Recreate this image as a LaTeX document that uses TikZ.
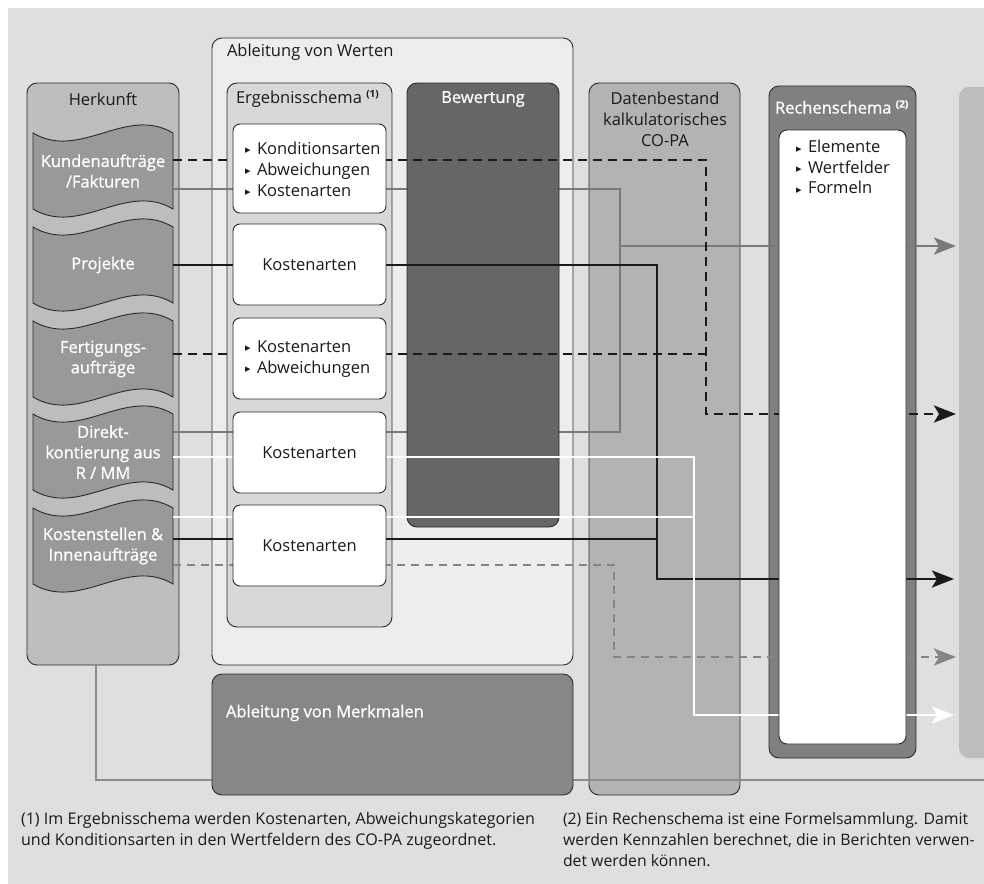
\documentclass[tikz,border=0pt]{standalone}
\usepackage{fontspec}
\setmainfont{Open Sans}
\newfontfamily\dejavu{DejaVu Sans}
\newfontfamily\semib[FakeBold=0.8]{Open Sans}
\usetikzlibrary{arrows.meta}
\definecolor{cBg}{HTML}{DFDFDF}
\definecolor{cWerte}{HTML}{EDEDED}
\definecolor{cHerk}{HTML}{BDBDBD}
\definecolor{cDoc}{HTML}{999999}
\definecolor{cErg}{HTML}{D8D8D8}
\definecolor{cBew}{HTML}{666666}
\definecolor{cDat}{HTML}{B3B3B3}
\definecolor{cRech}{HTML}{808080}
\definecolor{cRight}{HTML}{BDBDBD}
\definecolor{cMerk}{HTML}{878787}
\definecolor{cBord}{HTML}{2A2A2A}
\definecolor{cTxt}{HTML}{1A1A1A}
\definecolor{cBlk}{HTML}{1A1A1A}
\definecolor{cGry}{HTML}{7A7A7A}
\definecolor{cGryD}{HTML}{858585}
\definecolor{cGryL}{HTML}{8C8C8C}
\newcommand\bul{\makebox[12pt][l]{\dejavu\fontsize{11}{11}\selectfont\raisebox{0.5pt}{▸}}}
\newcommand\fnm[1]{\raisebox{6pt}{\bfseries\fontsize{10}{10}\selectfont #1}}
\newcommand\docshape[1]{%
  \filldraw[docst] (33,#1) .. controls (80,{#1+28}) and (126,{#1-28}) .. (173,#1)
    -- (173,{#1+76}) .. controls (126,{#1+76-28}) and (80,{#1+76+28}) .. (33,{#1+76}) -- cycle;}
\begin{document}
\begin{tikzpicture}[x=1pt,y=-1pt,
  box/.style={draw=cBord, line width=0.9pt, rounded corners=10pt, inner sep=0pt, outer sep=0pt, anchor=north west},
  lab/.style={inner sep=0pt, outer sep=0pt, text=cTxt, font=\fontsize{16.5}{21}\selectfont},
  wbox/.style={box, lab, fill=white, rounded corners=7pt, minimum width=153pt},
  wlab/.style={lab, text=white, font=\semib\fontsize{16.5}{20.5}\selectfont},
  docst/.style={draw=cBord, line width=0.9pt, fill=cDoc},
  arr/.style={-{Stealth[length=22pt,width=17pt,inset=5pt]}},
  conn/.style={line width=2.8pt},
  blk/.style={conn, draw=cBlk},
  blkd/.style={blk, dash pattern=on 9pt off 6pt},
  gry/.style={conn, draw=cGry},
  gryd/.style={conn, draw=cGryD, dash pattern=on 8pt off 6pt},
  wht/.style={conn, draw=white},
]
\useasboundingbox (0,0) rectangle (984,883);
\clip (0,0) rectangle (984,883);
\fill[cBg] (8,8) rectangle (990,890);

% containers
\node[box, fill=cWerte, minimum width=361pt, minimum height=627pt] (werte) at (212,38) {};
\node[box, fill=cHerk, minimum width=152pt, minimum height=582pt] (herk) at (27,83) {};
\node[box, fill=cErg, minimum width=165pt, minimum height=544pt] (erg) at (227,83) {};
\node[box, fill=cDat, minimum width=151pt, minimum height=712pt] (dat) at (589,83) {};
\node[box, fill=cRech, minimum width=147pt, minimum height=672pt] (rech) at (769,86) {};
\node[box, draw=none, fill=cRight, minimum width=60pt, minimum height=671pt] (far) at (959,87) {};

\node[lab] (herkT) at (103,99) {Herkunft};
\node[lab, anchor=west] (werteT) at (227,52) {Ableitung von Werten};
\node[lab, anchor=west] (ergT) at (236,99) {Ergebnisschema \fnm{(1)}};
\node[lab, align=center] (datT) at (665,119) {Datenbestand\\kalkulatorisches\\CO-PA};
\node[wlab, anchor=west] (rechT) at (775,107) {Rechenschema \fnm{(2)}};

% documents
\docshape{133}
\docshape{227}
\docshape{321}
\docshape{414}
\docshape{508}
\node[wlab, align=center, minimum width=140pt] (doc1) at (103,171) {Kundenaufträge\\/Fakturen};
\node[wlab, align=center, minimum width=140pt] (doc2) at (103,265) {Projekte};
\node[wlab, align=center, minimum width=140pt] (doc3) at (103,359) {Fertigungs-\\aufträge};
\node[wlab, align=center, minimum width=140pt] (doc4) at (103,452) {Direkt-\\kontierung aus\\R / MM};
\node[wlab, align=center, minimum width=140pt] (doc5) at (103,546) {Kostenstellen \&\\Innenaufträge};

% grey solid connectors (behind Bewertung)
\coordinate (g1) at (620,189);
\coordinate (g2) at (620,432);
\coordinate (g3) at (620,246);
\coordinate (gT) at (956,246);
\draw[gry] (doc1.east |- g1) -- (g1) -- (g2) -- (doc4.east |- g2);
\draw[gry, arr] (g3) -- (gT);

% Bewertung
\node[box, fill=cBew, minimum width=152pt, minimum height=444pt] (bew) at (407,83) {};
\node[wlab] (bewT) at (483,99) {Bewertung};

% black dashed
\coordinate (d1) at (706,160);
\coordinate (d2) at (706,414);
\coordinate (d3) at (706,354);
\coordinate (dT) at (956,414);
\draw[blkd] (doc3.east |- d3) -- (d3);
\draw[blkd, arr] (doc1.east |- d1) -- (d1) -- (d2) -- (dT);

% black solid
\coordinate (b1) at (657,265);
\coordinate (b2) at (657,579);
\coordinate (b3) at (657,539);
\coordinate (bT) at (954,579);
\draw[blk] (doc5.east |- b3) -- (b3);
\draw[blk, arr] (doc2.east |- b1) -- (b1) -- (b2) -- (bT);

% white
\coordinate (w1) at (694,457);
\coordinate (w2) at (694,715);
\coordinate (w3) at (694,517);
\coordinate (wT) at (954,715);
\draw[wht] (doc5.east |- w3) -- (w3);
\draw[wht, arr] (doc4.east |- w1) -- (w1) -- (w2) -- (wT);

% grey dashed
\coordinate (e1) at (614,565);
\coordinate (e2) at (614,657);
\coordinate (eT) at (956,657);
\draw[gryd, arr] (doc5.east |- e1) -- (e1) -- (e2) -- (eT);

% white boxes of Ergebnisschema
\node[wbox, minimum height=89pt] (wa) at (233,124) {};
\node[lab, anchor=west, align=left] (wat) at (245,169) {\bul Konditionsarten\\\bul Abweichungen\\\bul Kostenarten};
\node[wbox, minimum height=81pt] (wb) at (233,224) {Kostenarten};
\node[wbox, minimum height=81pt] (wc) at (233,318) {};
\node[lab, anchor=west, align=left] (wct) at (245,359) {\bul Kostenarten\\\bul Abweichungen};
\node[wbox, minimum height=81pt] (wd) at (233,412) {Kostenarten};
\node[wbox, minimum height=81pt] (we) at (233,505) {Kostenarten};

% Rechenschema inner
\node[box, fill=white, rounded corners=8pt, minimum width=127pt, minimum height=614pt] (rin) at (779,130) {};
\node[lab, anchor=west, align=left, font=\fontsize{16.5}{20.5}\selectfont] (rint) at (796,167) {\bul Elemente\\\bul Wertfelder\\\bul Formeln};

% bottom line and Merkmale
\coordinate (m1) at (96,780);
\coordinate (m2) at (990,780);
\draw[conn, draw=cGryL, line width=2.5pt] (herk.south -| m1) -- (m1) -- (m2);
\node[box, fill=cMerk, minimum width=361pt, minimum height=121pt] (merk) at (212,674) {};
\node[wlab, anchor=west] (merkT) at (226,713) {Ableitung von Merkmalen};

% footnotes
\node[lab, anchor=north west, align=left, font=\fontsize{16.1}{21}\selectfont] (fn1) at (21,812)
  {(1) Im Ergebnisschema werden Kostenarten, Abweichungskategorien\\und Konditionsarten in den Wertfeldern des CO-PA zugeordnet.};
\node[lab, anchor=north west, align=left, font=\fontsize{15.8}{21}\selectfont] (fn2) at (563,812)
  {(2) Ein Rechenschema ist eine Formelsammlung. Damit\\werden Kennzahlen berechnet, die in Berichten verwen-\\det werden können.};
\end{tikzpicture}
\end{document}
